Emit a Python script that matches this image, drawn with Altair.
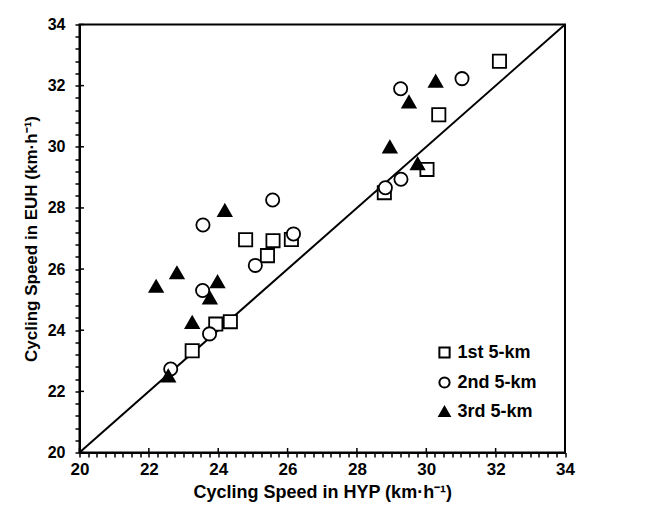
import altair as alt
import pandas as pd

# ---- data ----
hyp_1st = [32.11, 30.36, 30.02, 28.79, 24.79, 25.58, 26.11, 25.42, 24.35, 23.93, 23.25]
euh_1st = [32.80, 31.05, 29.26, 28.50, 26.96, 26.93, 26.97, 26.44, 24.28, 24.20, 23.33]

hyp_2nd = [31.03, 29.26, 29.27, 28.82, 25.57, 23.56, 26.17, 25.07, 23.55, 23.75, 22.63]
euh_2nd = [32.23, 31.90, 28.94, 28.66, 28.26, 27.44, 27.15, 26.12, 25.30, 23.88, 22.73]

hyp_3rd = [30.27, 29.50, 28.95, 29.75, 24.19, 22.81, 22.21, 23.98, 23.76, 23.25, 22.56]
euh_3rd = [32.15, 31.47, 30.00, 29.45, 27.92, 25.88, 25.44, 25.59, 25.06, 24.26, 22.51]

series_names = ["1st 5-km", "2nd 5-km", "3rd 5-km"]
identity_line = [20, 34]
major_ticks = [20, 22, 24, 26, 28, 30, 32, 34]
x_minor_ticks = [round(20 + 0.25 * i, 2) for i in range(57)]
y_minor_ticks = [round(20 + 0.4 * i, 1) for i in range(36)]

x_title = "Cycling Speed in HYP (km·h⁻¹)"
y_title = "Cycling Speed in EUH (km·h⁻¹)"

# ---- tables ----
rows = []
for name, xs, ys in zip(series_names, [hyp_1st, hyp_2nd, hyp_3rd], [euh_1st, euh_2nd, euh_3rd]):
    for a, b in zip(xs, ys):
        rows.append({"HYP": a, "EUH": b, "Segment": name})
points_df = pd.DataFrame(rows)
line_df = pd.DataFrame({"HYP": identity_line, "EUH": identity_line})
major_df = pd.DataFrame({"HYP": major_ticks, "EUH": major_ticks})

W, H = 485.5, 428
FONT = "Liberation Sans"
dom = [20, 34]

xscale = alt.Scale(domain=dom, nice=False, zero=False)
yscale = alt.Scale(domain=dom, nice=False, zero=False)

label_expr = "abs(datum.value % 2) < 0.001 ? format(datum.value, 'd') : ''"

x_axis = alt.Axis(
    values=x_minor_ticks, labelExpr=label_expr, labelOverlap=False,
    grid=False, tickSize=4.5, tickColor="black", tickWidth=1.5,
    domainColor="black", domainWidth=2,
    labelFont=FONT, labelFontSize=17, labelFontWeight="bold", labelColor="black",
    labelPadding=4, labelFlush=False,
    title=x_title, titleFont=FONT, titleFontSize=18, titleFontWeight="bold",
    titleColor="black", titlePadding=6,
)
y_axis = alt.Axis(
    values=y_minor_ticks, labelExpr=label_expr, labelOverlap=False,
    grid=False, tickSize=4.5, tickColor="black", tickWidth=1.5,
    domainColor="black", domainWidth=2,
    labelFont=FONT, labelFontSize=16, labelFontWeight="bold", labelColor="black",
    labelPadding=10, labelFlush=False,
    title=y_title, titleFont=FONT, titleFontSize=17, titleFontWeight="bold",
    titleColor="black", titlePadding=7,
)

X = alt.X("HYP:Q", scale=xscale, axis=x_axis)
Y = alt.Y("EUH:Q", scale=yscale, axis=y_axis)

pts = alt.Chart(points_df).mark_point(
    filled=True, strokeWidth=1.8, size=175, opacity=1
).encode(
    x=X,
    y=Y,
    shape=alt.Shape("Segment:N", scale=alt.Scale(domain=series_names,
                    range=["square", "circle", "triangle-up"]),
                    legend=alt.Legend(title=None, orient="none", legendX=356, legendY=319,
                                      labelFont=FONT, labelFontSize=18, labelFontWeight="bold",
                                      labelColor="black", symbolSize=105, symbolStrokeWidth=2,
                                      rowPadding=10, labelOffset=4)),
    fill=alt.Fill("Segment:N", scale=alt.Scale(domain=series_names,
                  range=["white", "white", "black"])),
    stroke=alt.Stroke("Segment:N", scale=alt.Scale(domain=series_names,
                      range=["black", "black", "black"])),
)

diag = alt.Chart(line_df).mark_line(color="black", strokeWidth=2).encode(x=X, y=Y)

xmaj = alt.Chart(major_df).mark_rule(color="black", strokeWidth=1.5).encode(
    x=X, y=alt.value(H), y2=alt.value(H - 4.5),
)
ymaj = alt.Chart(major_df).mark_rule(color="black", strokeWidth=1.5).encode(
    y=Y, x=alt.value(0), x2=alt.value(4.5),
)

chart = alt.layer(diag, xmaj, ymaj, pts).properties(
    width=W, height=H,
    autosize=alt.AutoSizeParams(type="none"),
    padding={"left": 71.5, "top": 16.5, "right": 96, "bottom": 52},
    background="white",
).configure_view(stroke="black", strokeWidth=2)

chart.save("out.html", embed_options={"renderer": "svg", "actions": False})
